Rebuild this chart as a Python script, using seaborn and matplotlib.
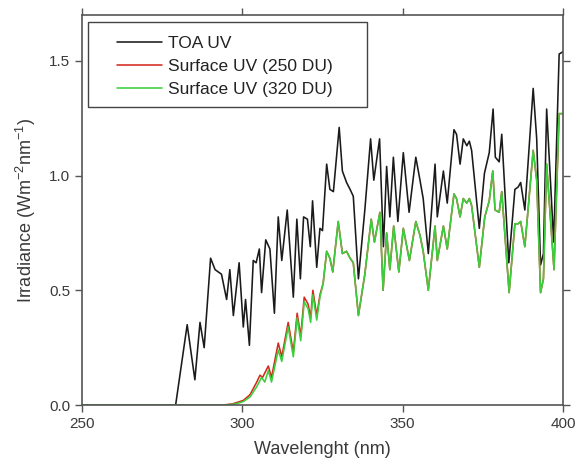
import numpy as np
import pandas as pd
import matplotlib
matplotlib.use("Agg")
import matplotlib.pyplot as plt
from matplotlib.patches import Rectangle
import seaborn as sns

# ---- data ----
toa_wl = [250, 279.2, 282.8, 285.2, 286.8, 288.1, 290.1, 291.5, 293.5, 295.1, 296.1,
          297.2, 299.0, 300.3, 301.0, 302.2, 303.4, 304.3, 305.3, 306.0, 307.3,
          308.6, 310.0, 311.2, 312.3, 314.0, 315.9, 317.0, 318.1, 319.1, 320.3,
          321.2, 321.9, 323.2, 324.2, 325.0, 326.3, 327.3, 328.4, 330.2, 331.2,
          332.5, 333.6, 334.6, 336.2, 338.2, 340.0, 341.0, 342.8, 344.0, 345.0,
          346.0, 347.1, 348.5, 350.2, 352.0, 354.1, 355.4, 356.4, 358.0, 360.1,
          360.8, 362.7, 363.9, 366.0, 366.8, 367.9, 368.9, 370.0, 370.8, 371.5,
          373.9, 375.5, 377.0, 378.2, 378.9, 380.1, 380.9, 383.1, 385.0, 386.0,
          386.8, 388.1, 390.7, 391.8, 393.0, 393.9, 394.9, 397.1, 398.8, 400.0]
toa_val = [0, 0, 0.35, 0.11, 0.36, 0.25, 0.64, 0.59, 0.57, 0.46, 0.59,
           0.39, 0.62, 0.34, 0.46, 0.26, 0.63, 0.62, 0.68, 0.49, 0.72,
           0.68, 0.40, 0.82, 0.63, 0.85, 0.47, 0.81, 0.55, 0.82, 0.81,
           0.69, 0.89, 0.60, 0.77, 0.76, 1.05, 0.94, 0.93, 1.21, 1.02,
           0.97, 0.94, 0.91, 0.55, 0.85, 1.16, 0.98, 1.16, 0.69, 1.04,
           0.82, 1.08, 0.80, 1.10, 0.84, 1.08, 0.98, 0.90, 0.66, 1.05,
           0.82, 1.02, 0.88, 1.20, 1.18, 1.05, 1.16, 1.13, 1.15, 1.11,
           0.77, 1.01, 1.10, 1.29, 1.08, 1.06, 1.18, 0.62, 0.94, 0.95,
           0.97, 0.85, 1.38, 1.16, 0.61, 0.66, 1.29, 0.71, 1.53, 1.54]

s320_wl = [250, 295.0, 298.0, 300.3, 302.4, 304.5, 306.0, 307.0, 308.1, 309.1,
           311.2, 312.3, 314.3, 315.9, 317.1, 318.2, 319.3, 320.5, 321.3, 322.0,
           323.2, 324.2, 325.2, 326.3, 327.3, 328.2, 329.9, 331.2, 332.5, 333.6,
           334.6, 336.2, 338.2, 340.2, 341.2, 342.9, 343.9, 345.0, 346.0, 347.2,
           348.8, 350.2, 352.1, 354.1, 355.4, 356.4, 358.0, 360.1, 360.8, 362.7,
           363.9, 366.0, 366.8, 367.9, 368.9, 370.0, 370.8, 371.5, 373.9, 375.6,
           377.0, 378.1, 378.8, 380.1, 380.9, 383.2, 385.0, 386.0, 386.8, 388.1,
           390.7, 391.8, 393.0, 393.9, 394.9, 397.2, 398.8, 400.0]
s320_val = [0, 0, 0.005, 0.015, 0.035, 0.08, 0.12, 0.10, 0.15, 0.10,
            0.24, 0.19, 0.34, 0.21, 0.38, 0.28, 0.45, 0.42, 0.36, 0.48,
            0.37, 0.47, 0.53, 0.67, 0.64, 0.58, 0.80, 0.66, 0.67, 0.64,
            0.62, 0.39, 0.57, 0.81, 0.71, 0.84, 0.50, 0.75, 0.59, 0.78,
            0.58, 0.77, 0.63, 0.80, 0.74, 0.67, 0.50, 0.78, 0.63, 0.78,
            0.68, 0.92, 0.90, 0.82, 0.90, 0.88, 0.90, 0.87, 0.60, 0.82,
            0.89, 1.02, 0.85, 0.84, 0.93, 0.49, 0.79, 0.79, 0.80, 0.69,
            1.11, 0.98, 0.49, 0.55, 1.05, 0.59, 1.27, 1.27]

# 250 DU: visibly above the 320 DU curve only below ~325 nm; above that the
# two curves coincide in the picture (red hidden under green)
s250_wl_low = [250, 294.0, 297.0, 300.3, 302.4, 304.5, 305.5, 306.3, 308.1, 309.1,
               311.2, 312.3, 314.3, 315.9, 317.1, 318.2, 319.3, 320.5, 321.3, 322.0,
               323.2, 324.2]
s250_val_low = [0, 0, 0.005, 0.02, 0.045, 0.10, 0.13, 0.12, 0.17, 0.12,
                0.27, 0.21, 0.36, 0.23, 0.40, 0.30, 0.47, 0.44, 0.38, 0.50,
                0.39, 0.48]
s250_wl = s250_wl_low + s320_wl[22:]
s250_val = s250_val_low + s320_val[22:]

labels = ["TOA UV", "Surface UV (250 DU)", "Surface UV (320 DU)"]
colors = ["#1a1a1a", "#d42a1e", "#3ccf3c"]
x_ticks = [250, 300, 350, 400]
y_ticks = [0.0, 0.5, 1.0, 1.5]

# ---- style ----
sns.set_style("ticks")
plt.rcParams["font.family"] = ["Liberation Sans", "DejaVu Sans"]
plt.rcParams["mathtext.fontset"] = "custom"
plt.rcParams["mathtext.rm"] = "Liberation Sans"
plt.rcParams["mathtext.it"] = "Liberation Sans:italic"
plt.rcParams["mathtext.default"] = "regular"

text_col = "#3a3a3a"
spine_col = "#555555"

fig = plt.figure(figsize=(5.79, 4.65), dpi=100)
ax = fig.add_axes([82 / 579, 1 - 405 / 465, 481 / 579, 390 / 465])

frames = [
    pd.DataFrame({"wl": toa_wl, "val": toa_val}),
    pd.DataFrame({"wl": s250_wl, "val": s250_val}),
    pd.DataFrame({"wl": s320_wl, "val": s320_val}),
]
for df, lab, col in zip(frames, labels, colors):
    sns.lineplot(data=df, x="wl", y="val", ax=ax, color=col, lw=1.15,
                 label=lab, sort=False, estimator=None)

ax.set_xlim(250, 400)
ax.set_ylim(0, 1.70)
ax.set_xticks(x_ticks)
ax.set_yticks(y_ticks)
ax.set_yticklabels([f"{v:.1f}" for v in y_ticks])
ax.set_xlabel("Wavelenght (nm)", fontsize=13, color=text_col, labelpad=7)
ax.set_ylabel(r"Irradiance (Wm$^{-2}$nm$^{-1}$)", fontsize=13, color=text_col, labelpad=8)

ax.tick_params(axis="both", which="major", direction="out", length=5, width=1,
               color=spine_col, labelsize=11, labelcolor=text_col,
               top=True, right=True, labeltop=False, labelright=False)
for sp in ax.spines.values():
    sp.set_visible(True)
    sp.set_color(spine_col)
    sp.set_linewidth(1.2)

# legend frame drawn as a rectangle, entries as legend without frame
rect = Rectangle((6 / 481, (405 - 107) / 390), (367 - 88) / 481, (107 - 22) / 390,
                 transform=ax.transAxes, fill=False, edgecolor="#444444", lw=1.0, zorder=5)
ax.add_patch(rect)
leg = ax.legend(loc="upper left", bbox_to_anchor=((117 - 82) / 481, (405 - 36) / 390),
                frameon=False, fontsize=12.5, handlelength=2.6, handletextpad=0.35,
                labelspacing=0.44, borderpad=0, borderaxespad=0)
for t in leg.get_texts():
    t.set_color("#222222")

fig.savefig("out.png", dpi=100)
